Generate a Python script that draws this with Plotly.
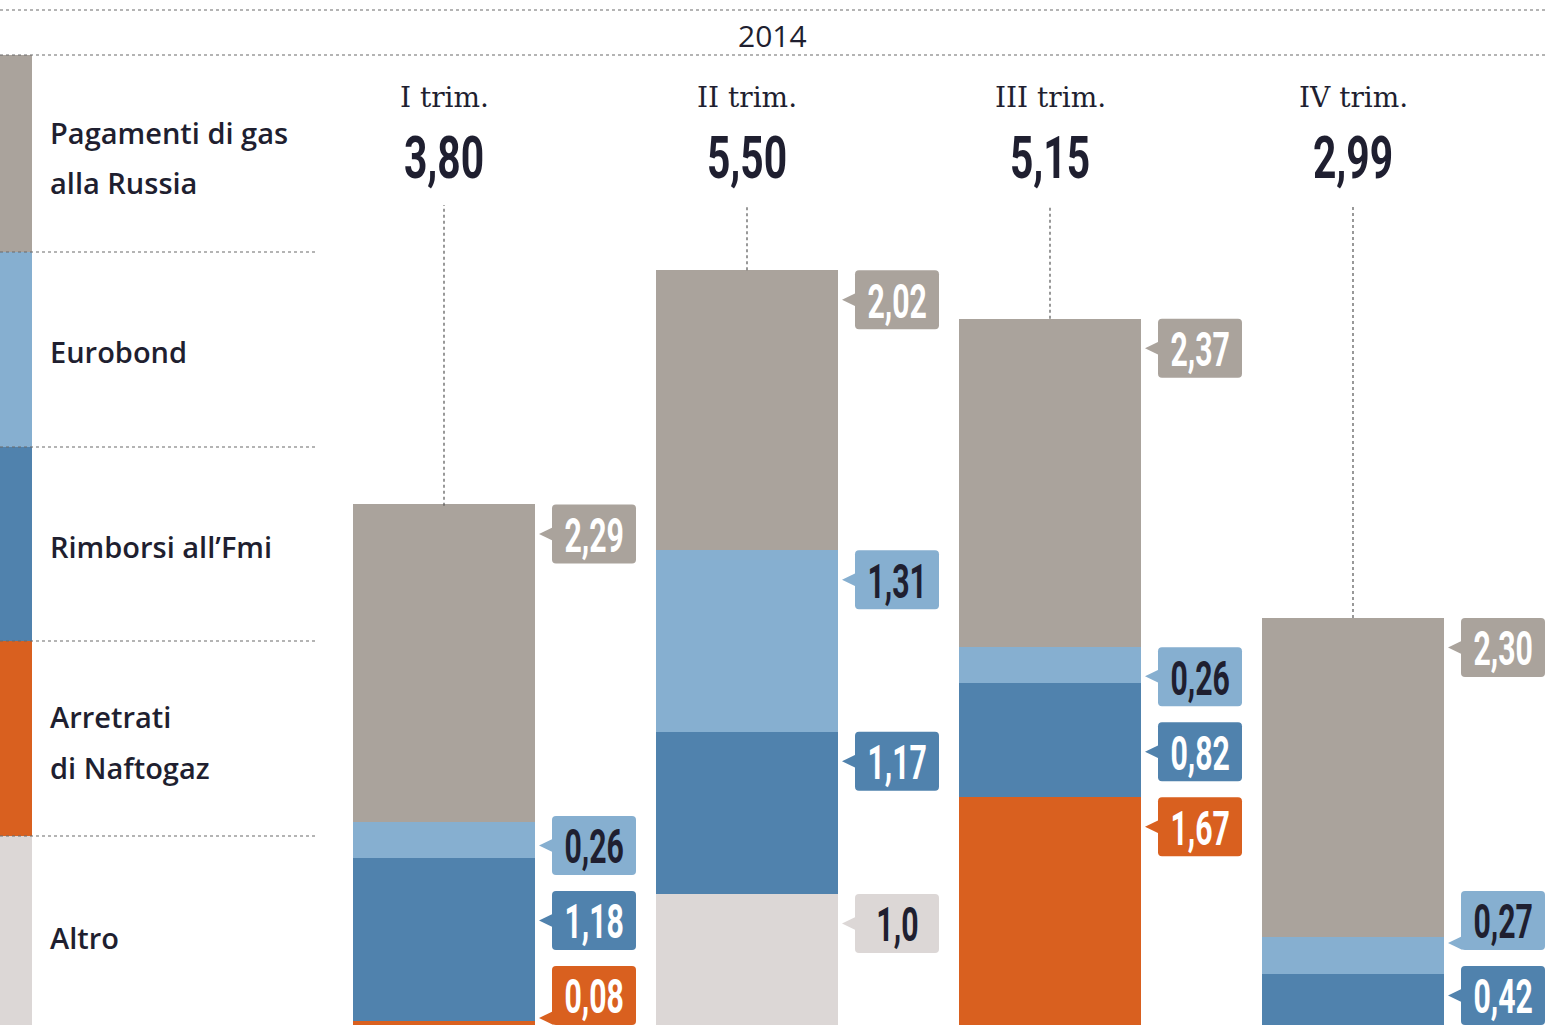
import plotly.graph_objects as go

# ---------------- data ----------------
quarters = ["I trim.", "II trim.", "III trim.", "IV trim."]
totals = [3.80, 5.50, 5.15, 2.99]
total_labels = ["3,80", "5,50", "5,15", "2,99"]
year_label = "2014"

legend_lines = [["Pagamenti di gas", "alla Russia"], ["Eurobond"], ["Rimborsi all’Fmi"],
                ["Arretrati", "di Naftogaz"], ["Altro"]]

pagamenti = [2.29, 2.02, 2.37, 2.30]
eurobond = [0.26, 1.31, 0.26, 0.27]
rimborsi = [1.18, 1.17, 0.82, 0.42]
arretrati = [0.08, 0.0, 1.67, 0.0]
altro = [0.0, 1.0, 0.03, 0.0]

pagamenti_text = ["2,29", "2,02", "2,37", "2,30"]
eurobond_text = ["0,26", "1,31", "0,26", "0,27"]
rimborsi_text = ["1,18", "1,17", "0,82", "0,42"]
arretrati_text = ["0,08", "", "1,67", ""]
altro_text = ["", "1,0", "", ""]

# ---------------- style ----------------
C_GRAY = "#aaa39c"
C_LBLUE = "#86afd0"
C_BLUE = "#5082ad"
C_ORANGE = "#d9601f"
C_ALTRO = "#dcd7d6"
C_TEXT = "#1f1f30"
WHITE = "#ffffff"

W, H = 1545, 1025
PX_PER_UNIT = 138.6
BASE_PX = 1032.5           # pixel row of value 0
STEP_PX = 303.0            # pixel distance between bar centres
FIRST_PX = 444.0           # pixel of first bar centre
Y_MIN = (BASE_PX - H) / PX_PER_UNIT
Y_MAX = BASE_PX / PX_PER_UNIT
X_MIN = -FIRST_PX / STEP_PX
X_MAX = (W - FIRST_PX) / STEP_PX

NUM_FONT = "Roboto"
SANS = "Open Sans, Noto Sans, sans-serif"
SERIF = "DejaVu Serif, serif"

series = [
    # (values, texts, colour, text colour) from top to bottom of the stack
    (pagamenti, pagamenti_text, C_GRAY, WHITE),
    (eurobond, eurobond_text, C_LBLUE, C_TEXT),
    (rimborsi, rimborsi_text, C_BLUE, WHITE),
    (arretrati, arretrati_text, C_ORANGE, WHITE),
    (altro, altro_text, C_ALTRO, C_TEXT),
]

x = list(range(len(quarters)))
fig = go.Figure()
for vals, _, col, _ in reversed(series):
    fig.add_trace(go.Bar(x=x, y=vals, width=0.60, marker=dict(color=col, line=dict(width=0)),
                         hoverinfo="skip"))

shapes = []
annotations = []


def px_y(p):
    return 1 - p / H


def px_x(p):
    return p / W


DOT = dict(color="#6a6a6a", width=1.2, dash="dot")

# top header lines and year
for yp in (10, 55):
    shapes.append(dict(type="line", xref="paper", yref="paper", x0=0, x1=1, y0=px_y(yp), y1=px_y(yp),
                       line=DOT))
annotations.append(dict(xref="paper", yref="paper", x=px_x(772), y=px_y(35), text=year_label,
                        showarrow=False, font=dict(family=SANS, size=30, color=C_TEXT),
                        xanchor="center", yanchor="middle"))

# left legend strip
band_edges = [55, 252, 447, 641, 836, 1030]
label_centres = [[132, 183], [351], [546], [716, 767], [937]]
for k, (vals, _, col, _) in enumerate(series):
    shapes.append(dict(type="rect", xref="paper", yref="paper", x0=0, x1=px_x(32),
                       y0=px_y(band_edges[k + 1]), y1=px_y(band_edges[k]),
                       fillcolor=col, line=dict(width=0), layer="below"))
    for line, yc in zip(legend_lines[k], label_centres[k]):
        annotations.append(dict(xref="paper", yref="paper", x=px_x(48), y=px_y(yc), text=line,
                                showarrow=False, align="left", xanchor="left", yanchor="middle",
                                font=dict(family=SANS, size=29, color=C_TEXT, weight=600)))
for yp in band_edges[1:5]:
    shapes.append(dict(type="line", xref="paper", yref="paper", x0=0, x1=px_x(315), y0=px_y(yp), y1=px_y(yp),
                       line=DOT))

# quarter headers, totals, leader lines
LEADER_TOP = (BASE_PX - 205) / PX_PER_UNIT
for i, q in enumerate(quarters):
    annotations.append(dict(xref="x", yref="paper", x=i, y=px_y(98), text=q, showarrow=False,
                            font=dict(family=SERIF, size=28, color=C_TEXT),
                            xanchor="center", yanchor="middle"))
    annotations.append(dict(xref="x", yref="paper", x=i, y=px_y(157), text=total_labels[i],
                            showarrow=False, font=dict(family=NUM_FONT, size=60, color=C_TEXT, weight=700),
                            xanchor="center", yanchor="middle"))
    shapes.append(dict(type="line", xref="x", yref="y", x0=i, x1=i, y0=totals[i], y1=LEADER_TOP,
                       line=dict(color="#555555", width=1.2, dash="dot")))

# value labels (boxes with pointers)
BOX_H = 59 / PX_PER_UNIT
BOX_STEP = 75 / PX_PER_UNIT
BOX_X0 = 108 / STEP_PX
BOX_X1 = 192 / STEP_PX
TIP_X = 95 / STEP_PX
TRI = 7 / PX_PER_UNIT
RX = 4 / STEP_PX
RY = 4 / PX_PER_UNIT


def rounded(x0, x1, y0, y1):
    return (f"M {x0+RX},{y1} L {x1-RX},{y1} Q {x1},{y1} {x1},{y1-RY} L {x1},{y0+RY} "
            f"Q {x1},{y0} {x1-RX},{y0} L {x0+RX},{y0} Q {x0},{y0} {x0},{y0+RY} "
            f"L {x0},{y1-RY} Q {x0},{y1} {x0+RX},{y1} Z")


for i in x:
    segs = []
    top = sum(s[0][i] for s in series)
    for vals, texts, col, tcol in series:
        v = vals[i]
        bottom = top - v
        if v > 0 and top > Y_MIN and texts[i]:
            segs.append(dict(top=top, bottom=bottom, text=texts[i], col=col, tcol=tcol))
        top = bottom
    prev = None
    for s in segs:
        t = s["top"] if prev is None else min(s["top"], prev - BOX_STEP)
        s["t"] = t
        prev = t
    nxt = None
    for s in reversed(segs):
        if nxt is None:
            s["t"] = max(s["t"], Y_MIN + BOX_H)
        else:
            s["t"] = max(s["t"], nxt + BOX_STEP)
        nxt = s["t"]
    for s in segs:
        t = s["t"]
        b = t - BOX_H
        x0, x1 = i + BOX_X0, i + BOX_X1
        shapes.append(dict(type="path", xref="x", yref="y", path=rounded(x0, x1, b, t),
                           fillcolor=s["col"], line=dict(width=0)))
        yc = t - BOX_H / 2
        yc = min(yc, s["top"] - TRI)
        yc = max(yc, max(s["bottom"], Y_MIN) + TRI)
        yc = min(max(yc, b + TRI), t - TRI)
        shapes.append(dict(type="path", xref="x", yref="y",
                           path=f"M {i+TIP_X},{yc} L {x0+0.005},{yc+TRI} L {x0+0.005},{yc-TRI} Z",
                           fillcolor=s["col"], line=dict(width=0)))
        annotations.append(dict(xref="x", yref="y", x=(x0 + x1) / 2, y=t - BOX_H / 2 - 0.01,
                                text=s["text"], showarrow=False,
                                font=dict(family=NUM_FONT, size=48, color=s["tcol"], weight=700),
                                xanchor="center", yanchor="middle"))

fig.update_layout(
    width=W, height=H, autosize=False,
    margin=dict(l=0, r=0, t=0, b=0, pad=0),
    paper_bgcolor="white", plot_bgcolor="white",
    barmode="stack", showlegend=False,
    xaxis=dict(range=[X_MIN, X_MAX], visible=False, fixedrange=True),
    yaxis=dict(range=[Y_MIN, Y_MAX], visible=False, fixedrange=True),
    shapes=shapes, annotations=annotations,
)

# remove the page margin and narrow the number glyphs (condensed look)
POST = """
document.body.style.margin = '0';
document.body.style.padding = '0';
document.querySelectorAll('text.annotation-text').forEach(function (t) {
  var ff = t.style.fontFamily || '';
  if (ff.indexOf('Roboto') < 0) return;
  var fs = parseFloat(t.style.fontSize);
  var s = fs > 55 ? 0.68 : 0.63;
  t.style.transformBox = 'fill-box';
  t.style.transformOrigin = 'center';
  t.style.transform = 'scaleX(' + s + ')';
});
"""

fig.write_html("out.html", config={"displayModeBar": False, "responsive": False}, post_script=POST)
